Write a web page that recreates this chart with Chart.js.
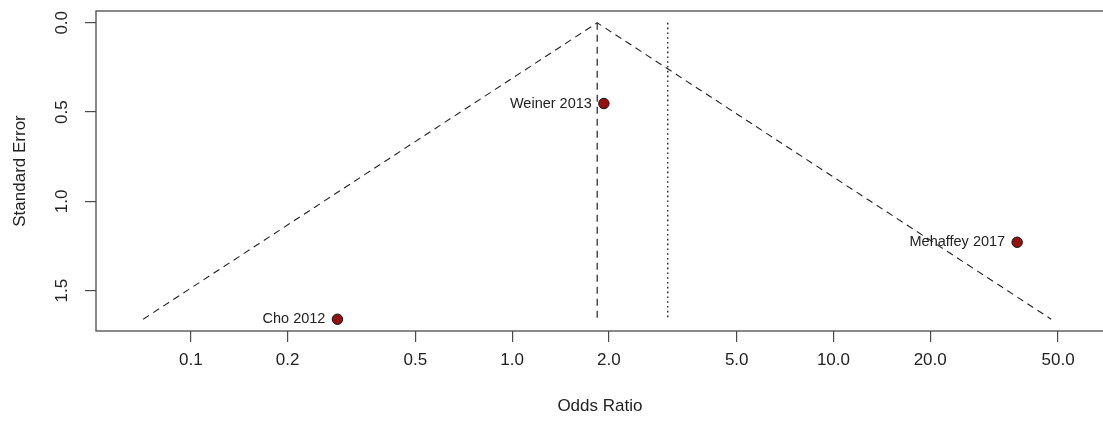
<!DOCTYPE html>
<html>
<head>
<meta charset="utf-8">
<script src="https://cdn.jsdelivr.net/npm/chart.js@4"></script>
<style>
  html, body { margin: 0; padding: 0; background: #fff; overflow: hidden; }
  #wrap { width: 1110px; height: 421px; }
</style>
</head>
<body>
<div id="wrap"><canvas id="funnel" width="1110" height="421"></canvas></div>
<script>
// studies: odds ratio and standard error
const studies = ["Cho 2012", "Weiner 2013", "Mehaffey 2017"];
const oddsRatios = [0.286, 1.93, 37.3];
const stdErrors = [1.66, 0.452, 1.229];

// pooled estimate, funnel edges and the dotted reference line
const pooledOR = 1.84;
const funnelLeftOR = 0.0711;
const funnelRightOR = 47.6;
const funnelBottomSE = 1.66;
const refOR = 3.05;

// axis ticks
const xTickValues = [0.1, 0.2, 0.5, 1, 2, 5, 10, 20, 50];
const xTickLabels = ["0.1", "0.2", "0.5", "1.0", "2.0", "5.0", "10.0", "20.0", "50.0"];
const yTickValues = [0, 0.5, 1, 1.5];
const yTickLabels = ["0.0", "0.5", "1.0", "1.5"];

const FONT = "'Liberation Sans', Arial, Helvetica, sans-serif";
const AXIS_COL = "#4a4a4a";

// box round the plot area, rotated y tick labels and study names
const extras = {
  id: "extras",
  afterDraw(chart) {
    const { ctx, chartArea: a } = chart;
    ctx.save();
    ctx.strokeStyle = AXIS_COL;
    ctx.lineWidth = 1.3;
    ctx.strokeRect(a.left, a.top, a.right - a.left, a.bottom - a.top);

    const ys = chart.scales.y;
    ctx.fillStyle = "#222";
    ctx.font = "17px " + FONT;
    ctx.textAlign = "center";
    ctx.textBaseline = "middle";
    yTickValues.forEach((v, i) => {
      const py = ys.getPixelForValue(v);
      ctx.save();
      ctx.translate(62, py);
      ctx.rotate(-Math.PI / 2);
      ctx.fillText(yTickLabels[i], 0, 0);
      ctx.restore();
    });

    const meta = chart.getDatasetMeta(0);
    ctx.font = "14.5px " + FONT;
    ctx.textAlign = "right";
    meta.data.forEach((pt, i) => {
      ctx.fillText(studies[i], pt.x - 12, pt.y);
    });
    ctx.restore();
  }
};

new Chart(document.getElementById("funnel"), {
  type: "scatter",
  data: {
    datasets: [
      {
        data: oddsRatios.map((v, i) => ({ x: v, y: stdErrors[i] })),
        backgroundColor: "#961010",
        borderColor: "#111",
        borderWidth: 1,
        pointRadius: 5.2,
      },
      {
        type: "line",
        data: [
          { x: funnelLeftOR, y: funnelBottomSE },
          { x: pooledOR, y: 0 },
          { x: funnelRightOR, y: funnelBottomSE },
        ],
        borderColor: "#222",
        borderWidth: 1.1,
        borderDash: [7, 5],
        pointRadius: 0,
        fill: false,
      },
      {
        type: "line",
        data: [{ x: pooledOR, y: 0 }, { x: pooledOR, y: funnelBottomSE }],
        borderColor: "#222",
        borderWidth: 1.2,
        borderDash: [7, 5],
        pointRadius: 0,
      },
      {
        type: "line",
        data: [{ x: refOR, y: 0 }, { x: refOR, y: funnelBottomSE }],
        borderColor: "#222",
        borderWidth: 1.4,
        borderDash: [1.6, 3.2],
        pointRadius: 0,
      },
    ],
  },
  options: {
    responsive: false,
    animation: false,
    layout: { padding: { top: 11, right: 4, left: 0, bottom: 0 } },
    plugins: { legend: { display: false }, tooltip: { enabled: false } },
    scales: {
      x: {
        type: "logarithmic",
        min: 0.0507,
        max: 69.4,
        afterBuildTicks: (s) => { s.ticks = xTickValues.map((v) => ({ value: v })); },
        afterFit: (s) => { s.height = 90; },
        border: { display: false },
        grid: { drawOnChartArea: false, drawTicks: true, tickLength: 11, color: AXIS_COL, lineWidth: 1.2 },
        ticks: {
          autoSkip: false,
          maxRotation: 0,
          padding: 8,
          color: "#222",
          font: { family: FONT, size: 17 },
          callback: (v, i) => xTickLabels[i],
        },
        title: {
          display: true,
          text: "Odds Ratio",
          color: "#222",
          font: { family: FONT, size: 17 },
          padding: { top: 4, bottom: 4 },
        },
      },
      y: {
        type: "linear",
        reverse: true,
        min: -0.066,
        max: 1.726,
        afterBuildTicks: (s) => { s.ticks = yTickValues.map((v) => ({ value: v })); },
        afterFit: (s) => { s.width = 96; },
        border: { display: false },
        grid: { drawOnChartArea: false, drawTicks: true, tickLength: 11, color: AXIS_COL, lineWidth: 1.2 },
        ticks: { display: true, color: "rgba(0,0,0,0)", font: { size: 1 } },
        title: {
          display: true,
          text: "Standard Error",
          color: "#222",
          font: { family: FONT, size: 17 },
          padding: { top: 10, bottom: 0 },
        },
      },
    },
  },
  plugins: [extras],
});
</script>
</body>
</html>
